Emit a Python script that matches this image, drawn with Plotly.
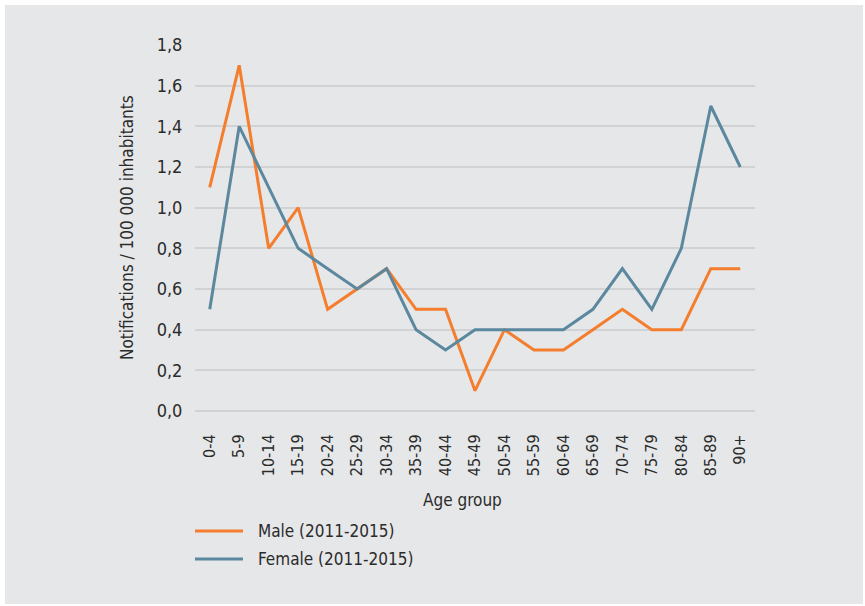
import plotly.graph_objects as go

# Age groups and notification rates per 100 000 inhabitants
age_groups = ["0-4", "5-9", "10-14", "15-19", "20-24", "25-29", "30-34", "35-39",
              "40-44", "45-49", "50-54", "55-59", "60-64", "65-69", "70-74",
              "75-79", "80-84", "85-89", "90+"]
male_rates = [1.1, 1.7, 0.8, 1.0, 0.5, 0.6, 0.7, 0.5, 0.5, 0.1, 0.4, 0.3, 0.3,
              0.4, 0.5, 0.4, 0.4, 0.7, 0.7]
female_rates = [0.5, 1.4, 1.1, 0.8, 0.7, 0.6, 0.7, 0.4, 0.3, 0.4, 0.4, 0.4, 0.4,
                0.5, 0.7, 0.5, 0.8, 1.5, 1.2]
series_names = ["Male (2011-2015)", "Female (2011-2015)"]
y_ticks = [0.0, 0.2, 0.4, 0.6, 0.8, 1.0, 1.2, 1.4, 1.6, 1.8]

ORANGE = "#F47E2E"
BLUE = "#5B889F"
BG = "#E6E7E8"
GRID = "#D0D2D4"
TEXT = "#2B2B2B"
FONT = "Liberation Sans Narrow, DejaVu Sans Condensed, sans-serif"

W, H = 865, 606
ML, MR, MT, MB = 195, 110, 45, 195
PW, PH = W - ML - MR, H - MT - MB


def px_x(px):
    return (px - ML) / PW


def px_y(py):
    return (H - MB - py) / PH


fig = go.Figure()
for name, vals, col in [(series_names[0], male_rates, ORANGE),
                        (series_names[1], female_rates, BLUE)]:
    fig.add_trace(go.Scatter(x=age_groups, y=vals, mode="lines", name=name,
                             line=dict(color=col, width=3), showlegend=False))

shapes = [
    # grey panel behind the whole chart
    dict(type="rect", xref="paper", yref="paper", layer="below",
         x0=px_x(5), x1=px_x(863), y0=px_y(604), y1=px_y(5),
         fillcolor=BG, line=dict(width=0)),
]
annotations = [
    dict(text="Notifications / 100 000 inhabitants", xref="paper", yref="paper",
         x=px_x(127), y=0.5, textangle=-90, showarrow=False,
         xanchor="center", yanchor="middle", font=dict(size=17, color=TEXT)),
    dict(text="Age group", xref="paper", yref="paper", x=px_x(462), y=px_y(500),
         showarrow=False, xanchor="center", yanchor="middle",
         font=dict(size=17, color=TEXT)),
]
# legend drawn as line samples with labels
for i, (name, col) in enumerate([(series_names[0], ORANGE), (series_names[1], BLUE)]):
    yy = px_y(531 + 28 * i)
    shapes.append(dict(type="line", xref="paper", yref="paper",
                       x0=px_x(195), x1=px_x(243), y0=yy, y1=yy,
                       line=dict(color=col, width=3)))
    annotations.append(dict(text=name, xref="paper", yref="paper", x=px_x(256), y=yy,
                            showarrow=False, xanchor="left", yanchor="middle",
                            font=dict(size=17, color=TEXT)))

fig.update_layout(
    width=W, height=H,
    margin=dict(l=ML, r=MR, t=MT, b=MB, pad=0),
    paper_bgcolor="white",
    plot_bgcolor="rgba(0,0,0,0)",
    separators=",.",
    font=dict(family=FONT, color=TEXT, size=16),
    shapes=shapes,
    annotations=annotations,
    showlegend=False,
)
fig.update_xaxes(type="category", range=[-0.5, 18.5], showgrid=False,
                 zeroline=False, showline=False, tickangle=-90,
                 ticks="outside", ticklen=16, tickcolor="rgba(0,0,0,0)",
                 tickfont=dict(size=16, color=TEXT))
fig.update_yaxes(range=[0, 1.8], tickvals=y_ticks, tickformat=".1f",
                 showgrid=True, gridcolor=GRID, gridwidth=1.5,
                 zeroline=True, zerolinecolor=GRID, zerolinewidth=1.5,
                 showline=False, ticks="outside", ticklen=8,
                 tickcolor="rgba(0,0,0,0)", tickfont=dict(size=18, color=TEXT))

fig.write_html("out.html")
